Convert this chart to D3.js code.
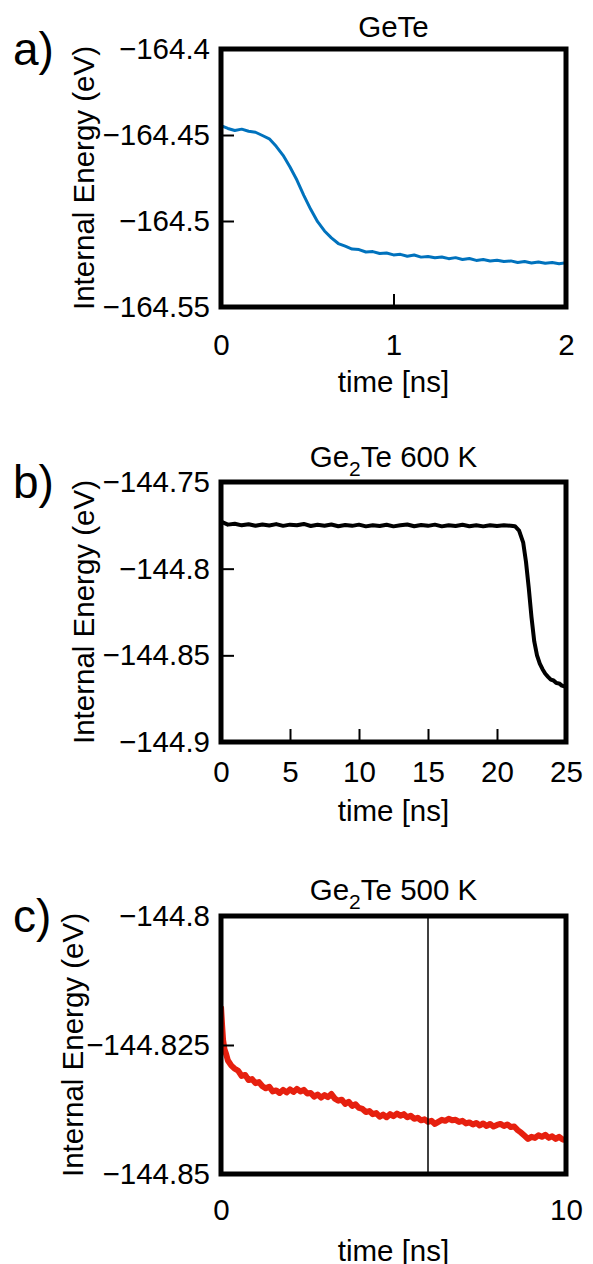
<!DOCTYPE html>
<html>
<head>
<meta charset="utf-8">
<script src="https://cdn.jsdelivr.net/npm/d3@7"></script>
<style>
  body { margin: 0; background: #fff; }
  svg { display: block; }
</style>
</head>
<body>
<svg id="fig" width="593" height="1264"></svg>
<script>
// ---- data ----
// a) GeTe
const timeA = [0, 0.04, 0.08, 0.12, 0.16, 0.2, 0.24, 0.28, 0.32, 0.36, 0.4, 0.44, 0.48, 0.52, 0.56, 0.6,
  0.64, 0.68, 0.72, 0.76, 0.8, 0.84, 0.88, 0.92, 0.96, 1.0, 1.04, 1.08, 1.12, 1.16, 1.2, 1.24, 1.28,
  1.32, 1.36, 1.4, 1.44, 1.48, 1.52, 1.56, 1.6, 1.64, 1.68, 1.72, 1.76, 1.8, 1.84, 1.88, 1.92, 1.96, 2.0];
const energyA = [-164.4446, -164.4462, -164.4474, -164.4466, -164.4478, -164.4484, -164.4503, -164.4522,
  -164.4566, -164.4618, -164.4686, -164.4762, -164.4851, -164.4932, -164.5004, -164.5058, -164.5098,
  -164.5131, -164.5146, -164.5163, -164.5166, -164.5180, -164.5178, -164.5189, -164.5186, -164.5197,
  -164.5194, -164.5205, -164.5198, -164.5210, -164.5206, -164.5214, -164.5209, -164.5219, -164.5213,
  -164.5224, -164.5218, -164.5229, -164.5224, -164.5233, -164.5228, -164.5236, -164.5232, -164.5241,
  -164.5235, -164.5244, -164.5238, -164.5246, -164.5241, -164.5248, -164.5243];

// b) Ge2Te 600 K
const timeB = [0, 0.5, 1, 1.5, 2, 2.5, 3, 3.5, 4, 4.5, 5, 5.5, 6, 6.5, 7, 7.5, 8, 8.5, 9, 9.5, 10, 10.5,
  11, 11.5, 12, 12.5, 13, 13.5, 14, 14.5, 15, 15.5, 16, 16.5, 17, 17.5, 18, 18.5, 19, 19.5, 20, 20.5,
  21, 21.3, 21.6, 21.9, 22.1, 22.3, 22.5, 22.7, 22.9, 23.1, 23.3, 23.5, 23.7, 23.9, 24.1, 24.3, 24.5, 24.7, 25];
const energyB = [-144.7728, -144.7746, -144.7741, -144.7750, -144.7744, -144.7752, -144.7745, -144.7751,
  -144.7743, -144.7753, -144.7746, -144.7750, -144.7742, -144.7754, -144.7747, -144.7752, -144.7745,
  -144.7755, -144.7748, -144.7753, -144.7746, -144.7756, -144.7749, -144.7754, -144.7747, -144.7756,
  -144.7750, -144.7745, -144.7755, -144.7748, -144.7753, -144.7746, -144.7756, -144.7749, -144.7754,
  -144.7747, -144.7755, -144.7750, -144.7756, -144.7749, -144.7754, -144.7750, -144.7752, -144.7755,
  -144.7780, -144.7850, -144.7960, -144.8110, -144.8280, -144.8420, -144.8500, -144.8548, -144.8580,
  -144.8606, -144.8624, -144.8640, -144.8645, -144.8660, -144.8662, -144.8675, -144.8682];

// c) Ge2Te 500 K
const timeC = [0, 0.03, 0.06, 0.1, 0.15, 0.2, 0.3, 0.4, 0.5, 0.6, 0.7, 0.8, 0.9, 1.0, 1.1, 1.2, 1.3, 1.4,
  1.5, 1.6, 1.7, 1.8, 1.9, 2.0, 2.1, 2.2, 2.3, 2.4, 2.5, 2.6, 2.7, 2.8, 2.9, 3.0, 3.1, 3.2, 3.3, 3.4, 3.5,
  3.6, 3.7, 3.8, 3.9, 4.0, 4.1, 4.2, 4.3, 4.4, 4.5, 4.6, 4.7, 4.8, 4.9, 5.0, 5.1, 5.2, 5.3, 5.4, 5.5, 5.6,
  5.7, 5.8, 5.9, 6.0, 6.1, 6.2, 6.3, 6.4, 6.5, 6.6, 6.7, 6.8, 6.9, 7.0, 7.1, 7.2, 7.3, 7.4, 7.5, 7.6, 7.7,
  7.8, 7.9, 8.0, 8.1, 8.2, 8.3, 8.4, 8.5, 8.6, 8.7, 8.8, 8.9, 9.0, 9.1, 9.2, 9.3, 9.4, 9.5, 9.6, 9.7, 9.8,
  9.9, 10.0];
const energyC = [-144.8175, -144.8210, -144.8240, -144.8258, -144.8268, -144.8280, -144.8290, -144.8296,
  -144.8300, -144.8310, -144.8308, -144.8318, -144.8316, -144.8324, -144.8322, -144.8330, -144.8334,
  -144.8331, -144.8340, -144.8338, -144.8343, -144.8337, -144.8342, -144.8336, -144.8341, -144.8335,
  -144.8340, -144.8337, -144.8344, -144.8343, -144.8350, -144.8346, -144.8352, -144.8347, -144.8351,
  -144.8345, -144.8354, -144.8358, -144.8356, -144.8364, -144.8360, -144.8368, -144.8365, -144.8372,
  -144.8374, -144.8380, -144.8378, -144.8384, -144.8382, -144.8389, -144.8385, -144.8390, -144.8384,
  -144.8388, -144.8383, -144.8387, -144.8384, -144.8390, -144.8387, -144.8393, -144.8391, -144.8396,
  -144.8394, -144.8399, -144.8397, -144.8403, -144.8399, -144.8395, -144.8397, -144.8393, -144.8396,
  -144.8395, -144.8399, -144.8397, -144.8402, -144.8400, -144.8404, -144.8401, -144.8406, -144.8402,
  -144.8407, -144.8403, -144.8408, -144.8405, -144.8403, -144.8407, -144.8404, -144.8409, -144.8408,
  -144.8415, -144.8420, -144.8426, -144.8432, -144.8428, -144.8430, -144.8425, -144.8428, -144.8424,
  -144.8430, -144.8427, -144.8432, -144.8428, -144.8433, -144.8434];
const markerC = 6; // vertical line in panel c

// tick values
const xTicksA = [0, 1, 2];
const yTicksA = [-164.4, -164.45, -164.5, -164.55];
const xTicksB = [0, 5, 10, 15, 20, 25];
const yTicksB = [-144.75, -144.8, -144.85, -144.9];
const xTicksC = [0, 10];
const yTicksC = [-144.8, -144.825, -144.85];

// ---- layout ----
const FONT = '"Liberation Sans", Arial, Helvetica, sans-serif';
const L = 221, R = 566;

const panels = [
  { letter: "a)", title: ["GeTe"], t: timeA, e: energyA, xDom: [0, 2], yDom: [-164.55, -164.4],
    xt: xTicksA, yt: yTicksA, color: "#0072bd", lw: 3,
    top: 49, bottom: 307, letterY: 65, titleY: 37, xtY: 355, xlabY: 392, ylabX: 94 },
  { letter: "b)", title: ["Ge", "2", "Te 600 K"], t: timeB, e: energyB, xDom: [0, 25], yDom: [-144.9, -144.75],
    xt: xTicksB, yt: yTicksB, color: "#000", lw: 4,
    top: 482, bottom: 742, letterY: 498, titleY: 467, xtY: 782, xlabY: 821, ylabX: 94 },
  { letter: "c)", title: ["Ge", "2", "Te 500 K"], t: timeC, e: energyC, xDom: [0, 10], yDom: [-144.85, -144.8],
    xt: xTicksC, yt: yTicksC, color: "#e6200f", lw: 6, marker: markerC,
    top: 916, bottom: 1174, letterY: 932, titleY: 900, xtY: 1220, xlabY: 1261, ylabX: 83 }
];

const svg = d3.select("#fig").attr("font-family", FONT);

panels.forEach((p, i) => {
  const x = d3.scaleLinear().domain(p.xDom).range([L, R]);
  const y = d3.scaleLinear().domain(p.yDom).range([p.bottom, p.top]);
  const g = svg.append("g");

  // clip for the data line
  g.append("clipPath").attr("id", "clip" + i)
    .append("rect").attr("x", L).attr("y", p.top).attr("width", R - L).attr("height", p.bottom - p.top);

  const pts = p.t.map((t, k) => [t, p.e[k]]);
  g.append("path")
    .datum(pts)
    .attr("clip-path", `url(#clip${i})`)
    .attr("fill", "none")
    .attr("stroke", p.color)
    .attr("stroke-width", p.lw)
    .attr("stroke-linejoin", "round")
    .attr("d", d3.line().x(d => x(d[0])).y(d => y(d[1])));

  if (p.marker !== undefined) {
    g.append("line")
      .attr("x1", x(p.marker)).attr("x2", x(p.marker))
      .attr("y1", p.top).attr("y2", p.bottom)
      .attr("stroke", "#000").attr("stroke-width", 1.5);
  }

  // axes (ticks inward)
  const yAxis = d3.axisLeft(y).tickValues(p.yt).tickSizeInner(-13).tickSizeOuter(0)
    .tickPadding(11).tickFormat(d3.format(""));
  g.append("g").attr("transform", `translate(${L},0)`).call(yAxis)
    .attr("font-family", FONT).attr("font-size", 29.5)
    .call(a => a.select(".domain").remove())
    .call(a => a.selectAll("line").attr("stroke", "#000").attr("stroke-width", 2))
    .call(a => a.selectAll("text").attr("fill", "#000"));

  const xAxis = d3.axisBottom(x).tickValues(p.xt).tickSizeInner(-13).tickSizeOuter(0)
    .tickFormat(d3.format(""));
  g.append("g").attr("transform", `translate(0,${p.bottom})`).call(xAxis)
    .attr("font-family", FONT).attr("font-size", 29.5)
    .call(a => a.select(".domain").remove())
    .call(a => a.selectAll("line").attr("stroke", "#000").attr("stroke-width", 2))
    .call(a => a.selectAll("text").attr("fill", "#000").attr("y", p.xtY - p.bottom).attr("dy", null));

  // frame
  g.append("rect")
    .attr("x", L).attr("y", p.top).attr("width", R - L).attr("height", p.bottom - p.top)
    .attr("fill", "none").attr("stroke", "#000").attr("stroke-width", 5);

  // title
  const title = g.append("text")
    .attr("x", (L + R) / 2).attr("y", p.titleY)
    .attr("text-anchor", "middle").attr("font-size", 29.5);
  if (p.title.length === 1) {
    title.text(p.title[0]);
  } else {
    title.append("tspan").text(p.title[0]);
    title.append("tspan").attr("font-size", 21).attr("dy", 9).text(p.title[1]);
    title.append("tspan").attr("dy", -9).text(p.title[2]);
  }

  // axis labels
  g.append("text")
    .attr("x", (L + R) / 2).attr("y", p.xlabY)
    .attr("text-anchor", "middle").attr("font-size", 29.5)
    .text("time [ns]");

  g.append("text")
    .attr("transform", `translate(${p.ylabX},${(p.top + p.bottom) / 2}) rotate(-90)`)
    .attr("text-anchor", "middle").attr("font-size", 29.5)
    .text("Internal Energy (eV)");

  // panel letter
  g.append("text")
    .attr("x", 13).attr("y", p.letterY)
    .attr("font-size", 46)
    .text(p.letter);
});
</script>
</body>
</html>
